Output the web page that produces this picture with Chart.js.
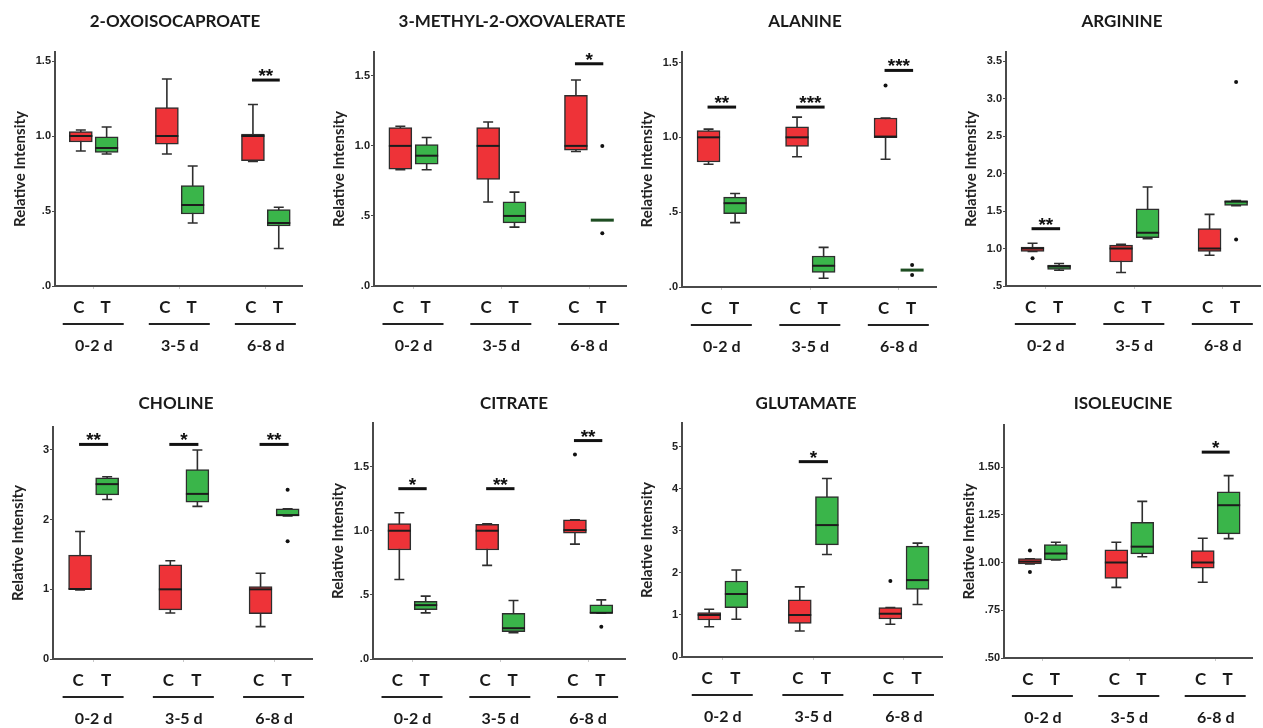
<!DOCTYPE html>
<html>
<head>
<meta charset="utf-8">
<script src="https://cdn.jsdelivr.net/npm/chart.js@4.4.0/dist/chart.umd.min.js"></script>
<style>
  body { margin: 0; background: #fff; width: 1263px; height: 728px; overflow: hidden; position: relative; }
  canvas { position: absolute; }
</style>
</head>
<body>
<script>
// time windows on the x axis
const groups = ['0-2 d', '3-5 d', '6-8 d'];

// every box is [min, q1, median, q3, max] for C (control) and T (treated)
const oxoC = [[0.90, 0.96, 1.00, 1.03, 1.04], [0.88, 0.945, 1.00, 1.19, 1.38], [0.83, 0.835, 1.00, 1.013, 1.21]];
const oxoT = [[0.88, 0.89, 0.92, 0.995, 1.06], [0.42, 0.48, 0.54, 0.67, 0.80], [0.25, 0.40, 0.42, 0.51, 0.525]];
const oxoOut = [];
const oxoSig = [null, null, ['**', 1.373]];

const metC = [[0.83, 0.833, 1.00, 1.13, 1.14], [0.60, 0.76, 1.00, 1.13, 1.17], [0.96, 0.97, 1.00, 1.36, 1.47]];
const metT = [[0.83, 0.87, 0.93, 1.01, 1.06], [0.42, 0.45, 0.50, 0.60, 0.67], [0.47, 0.47, 0.47, 0.47, 0.47]];
const metOut = [[2, 'T', 1.00], [2, 'T', 0.376]];
const metSig = [null, null, ['*', 1.586]];

const alaC = [[0.82, 0.835, 1.00, 1.045, 1.055], [0.87, 0.94, 1.00, 1.07, 1.135], [0.853, 0.998, 1.005, 1.129, 1.129]];
const alaT = [[0.43, 0.49, 0.56, 0.60, 0.625], [0.058, 0.098, 0.142, 0.207, 0.265], [0.113, 0.113, 0.113, 0.113, 0.113]];
const alaOut = [[2, 'C', 1.347], [2, 'T', 0.147], [2, 'T', 0.08]];
const alaSig = [['**', 1.202], ['***', 1.202], ['***', 1.447]];

const argC = [[0.96, 0.96, 1.00, 1.02, 1.07], [0.68, 0.82, 1.00, 1.045, 1.055], [0.91, 0.96, 1.00, 1.265, 1.455]];
const argT = [[0.71, 0.72, 0.76, 0.78, 0.80], [1.13, 1.145, 1.21, 1.53, 1.82], [1.57, 1.575, 1.625, 1.635, 1.64]];
const argOut = [[0, 'C', 0.87], [2, 'T', 3.22], [2, 'T', 1.12]];
const argSig = [['**', 1.264], null, null];

const choC = [[0.99, 1.00, 1.005, 1.49, 1.83], [0.66, 0.705, 1.00, 1.35, 1.41], [0.465, 0.65, 1.00, 1.04, 1.23]];
const choT = [[2.29, 2.355, 2.51, 2.60, 2.615], [2.19, 2.25, 2.37, 2.72, 3.00], [2.055, 2.058, 2.065, 2.155, 2.155]];
const choOut = [[2, 'T', 2.43], [2, 'T', 1.69]];
const choSig = [['**', 3.08], ['*', 3.08], ['**', 3.08]];

const citC = [[0.62, 0.85, 1.00, 1.055, 1.14], [0.73, 0.85, 1.00, 1.05, 1.055], [0.896, 0.982, 1.005, 1.086, 1.086]];
const citT = [[0.36, 0.385, 0.42, 0.45, 0.49], [0.205, 0.213, 0.24, 0.357, 0.456], [0.357, 0.357, 0.36, 0.422, 0.461]];
const citOut = [[2, 'C', 1.594], [2, 'T', 0.252]];
const citSig = [['*', 1.328], ['**', 1.328], ['**', 1.703]];

const gluC = [[0.72, 0.88, 1.00, 1.055, 1.135], [0.62, 0.80, 1.00, 1.36, 1.67], [0.78, 0.905, 1.03, 1.175, 1.175]];
const gluT = [[0.90, 1.175, 1.50, 1.81, 2.07], [2.44, 2.67, 3.14, 3.82, 4.25], [1.25, 1.61, 1.83, 2.64, 2.71]];
const gluOut = [[2, 'C', 1.81]];
const gluSig = [null, ['*', 4.65], null];

const ileC = [[0.993, 0.993, 1.005, 1.02, 1.02], [0.87, 0.917, 1.00, 1.066, 1.106], [0.897, 0.97, 1.00, 1.0625, 1.127]];
const ileT = [[1.014, 1.014, 1.047, 1.094, 1.106], [1.03, 1.045, 1.083, 1.21, 1.32], [1.125, 1.15, 1.30, 1.37, 1.455]];
const ileOut = [[0, 'C', 1.0625], [0, 'C', 0.95]];
const ileSig = [null, null, ['*', 1.578]];

// y axes of the eight panels
const yMins = [0, 0, 0, 0.5, 0, 0, 0, 0.5];
const yMaxs = [1.56, 1.67, 1.57, 3.62, 3.33, 1.84, 5.57, 1.72];
const ySteps = [0.5, 0.5, 0.5, 0.5, 1, 0.5, 1, 0.25];
const yDecimals = [1, 1, 1, 1, 0, 1, 0, 2];

const panels = [
  { title: '2-OXOISOCAPROATE', c: oxoC, t: oxoT, out: oxoOut, sig: oxoSig },
  { title: '3-METHYL-2-OXOVALERATE', c: metC, t: metT, out: metOut, sig: metSig },
  { title: 'ALANINE', c: alaC, t: alaT, out: alaOut, sig: alaSig },
  { title: 'ARGININE', c: argC, t: argT, out: argOut, sig: argSig },
  { title: 'CHOLINE', c: choC, t: choT, out: choOut, sig: choSig },
  { title: 'CITRATE', c: citC, t: citT, out: citOut, sig: citSig },
  { title: 'GLUTAMATE', c: gluC, t: gluT, out: gluOut, sig: gluSig },
  { title: 'ISOLEUCINE', c: ileC, t: ileT, out: ileOut, sig: ileSig }
];

// where each panel sits on the page (px)
const frames = [
  { left: 0,   top: 0,   axis: 55,   right: 302,  plotTop: 52,  plotBottom: 286, titleX: 175,  titleY: 22 },
  { left: 318, top: 0,   axis: 374,  right: 626,  plotTop: 52,  plotBottom: 286, titleX: 512,  titleY: 22 },
  { left: 628, top: 0,   axis: 682,  right: 936,  plotTop: 52,  plotBottom: 287, titleX: 805,  titleY: 22 },
  { left: 948, top: 0,   axis: 1006, right: 1260, plotTop: 52,  plotBottom: 286, titleX: 1122, titleY: 22 },
  { left: 0,   top: 364, axis: 53,   right: 312,  plotTop: 427, plotBottom: 659, titleX: 176,  titleY: 404 },
  { left: 318, top: 364, axis: 373,  right: 625,  plotTop: 423, plotBottom: 659, titleX: 514,  titleY: 404 },
  { left: 628, top: 364, axis: 682,  right: 942,  plotTop: 423, plotBottom: 657, titleX: 806,  titleY: 404 },
  { left: 948, top: 364, axis: 1004, right: 1252, plotTop: 425, plotBottom: 658, titleX: 1123, titleY: 404 }
];

const OFF = 0.15;          // C / T shift from the group centre, in x units
const RED = '#ee3338';
const GREEN = '#3ab54a';
const INK = '#2e2e2e';
const XH = 5;

function fmt(v, d) {
  const s = v.toFixed(d);
  return d > 0 ? s.replace(/^0\./, '.') : s;
}

function extras(p, f) {
  return {
    id: 'boxExtras',
    beforeDatasetsDraw(chart) {
      // whiskers + caps, boxes get drawn over them
      const { ctx, scales: { x, y } } = chart;
      ctx.save();
      ctx.strokeStyle = INK;
      ctx.lineWidth = 1.6;
      [[p.c, -OFF], [p.t, OFF]].forEach(([boxes, dx]) => {
        boxes.forEach((b, g) => {
          const cx = x.getPixelForValue(g + dx);
          const lo = y.getPixelForValue(b[0]);
          const hi = y.getPixelForValue(b[4]);
          ctx.beginPath();
          ctx.moveTo(cx, lo); ctx.lineTo(cx, hi);
          ctx.moveTo(cx - 5, lo); ctx.lineTo(cx + 5, lo);
          ctx.moveTo(cx - 5, hi); ctx.lineTo(cx + 5, hi);
          ctx.stroke();
        });
      });
      ctx.restore();
    },
    afterDatasetsDraw(chart) {
      const { ctx, scales: { x, y } } = chart;
      ctx.save();
      // medians
      [0, 1].forEach(di => {
        const boxes = di ? p.t : p.c;
        chart.getDatasetMeta(di).data.forEach((bar, g) => {
          const { x: bx, width } = bar.getProps(['x', 'width'], true);
          const b = boxes[g];
          const my = y.getPixelForValue(b[2]);
          ctx.beginPath();
          ctx.moveTo(bx - width / 2, my);
          ctx.lineTo(bx + width / 2, my);
          // a collapsed box is shown as one thicker dark line
          ctx.lineWidth = b[1] === b[3] ? 3 : 2;
          ctx.strokeStyle = b[1] === b[3] ? (di ? '#1e4d22' : '#5a1416') : '#1c1c1c';
          ctx.stroke();
        });
      });
      // significance bars
      p.sig.forEach((s, g) => {
        if (!s) return;
        const x0 = x.getPixelForValue(g - OFF) - 1;
        const x1 = x.getPixelForValue(g + OFF) + 1;
        const sy = y.getPixelForValue(s[1]);
        ctx.beginPath();
        ctx.moveTo(x0, sy); ctx.lineTo(x1, sy);
        ctx.lineWidth = 3;
        ctx.strokeStyle = '#111';
        ctx.stroke();
        ctx.fillStyle = '#111';
        ctx.font = 'bold 19px "Liberation Sans"';
        ctx.textAlign = 'center';
        ctx.textBaseline = 'alphabetic';
        ctx.fillText(s[0], (x0 + x1) / 2, sy + 2);
      });
      ctx.restore();
    },
    afterDraw(chart) {
      const { ctx, chartArea, scales: { x } } = chart;
      ctx.save();
      ctx.fillStyle = '#1a1a1a';
      ctx.textAlign = 'center';
      ctx.textBaseline = 'middle';
      ctx.font = 'bold 17px Lato';
      ctx.fillText(p.title, f.titleX - f.left, f.titleY - f.top);
      const b = chartArea.bottom;
      groups.forEach((name, g) => {
        const gx = x.getPixelForValue(g);
        ctx.font = 'bold 17px Lato';
        ctx.fillText('C', x.getPixelForValue(g - OFF) - 2, b + 22);
        ctx.fillText('T', x.getPixelForValue(g + OFF) - 1, b + 22);
        ctx.beginPath();
        ctx.moveTo(gx - 31, b + 38);
        ctx.lineTo(gx + 30, b + 38);
        ctx.lineWidth = 2;
        ctx.strokeStyle = '#222';
        ctx.stroke();
        ctx.font = 'bold 16px Lato';
        ctx.fillText(name, gx, b + 60);
      });
      ctx.restore();
    }
  };
}

panels.forEach((p, i) => {
  const f = frames[i];
  const W = f.right - f.left + 4;
  const H = 364;
  const canvas = document.createElement('canvas');
  canvas.width = W;
  canvas.height = H;
  canvas.style.left = f.left + 'px';
  canvas.style.top = f.top + 'px';
  document.body.appendChild(canvas);
  const yw = f.axis - f.left;

  const outliers = p.out.map(o => ({ x: o[0] + (o[1] === 'C' ? -OFF : OFF), y: o[2] }));

  new Chart(canvas, {
    type: 'bar',
    data: {
      datasets: [
        {
          label: 'C',
          data: p.c.map((b, g) => ({ x: g - OFF, y: [b[1], b[3]] })),
          backgroundColor: RED,
          borderColor: INK,
          borderWidth: 1.5,
          borderSkipped: false,
          barThickness: 23,
          grouped: false
        },
        {
          label: 'T',
          data: p.t.map((b, g) => ({ x: g + OFF, y: [b[1], b[3]] })),
          backgroundColor: GREEN,
          borderColor: INK,
          borderWidth: 1.5,
          borderSkipped: false,
          barThickness: 23,
          grouped: false
        },
        {
          type: 'scatter',
          label: 'outliers',
          data: outliers,
          pointRadius: 2,
          backgroundColor: '#111',
          borderWidth: 0
        }
      ]
    },
    options: {
      responsive: false,
      animation: false,
      devicePixelRatio: 1,
      layout: {
        padding: { left: 0, right: 4, top: f.plotTop - f.top, bottom: H - (f.plotBottom - f.top) - XH }
      },
      plugins: { legend: { display: false }, tooltip: { enabled: false } },
      scales: {
        x: {
          type: 'linear',
          min: -0.45,
          max: 2.42,
          offset: false,
          afterBuildTicks: s => { s.ticks = groups.map((_, g) => ({ value: g })); },
          afterFit: s => { s.height = XH; },
          ticks: { display: false },
          grid: { drawOnChartArea: false, offset: false, tickLength: 3, color: '#c8c8c8' },
          border: { color: '#4a4a4a', width: 2 }
        },
        y: {
          min: yMins[i],
          max: yMaxs[i],
          beginAtZero: false,
          afterFit: s => { s.width = yw; },
          ticks: {
            stepSize: ySteps[i],
            includeBounds: false,
            callback: v => fmt(v, yDecimals[i]),
            font: { family: 'Liberation Sans', weight: 'bold', size: 11 },
            color: '#222',
            padding: 1
          },
          grid: { drawOnChartArea: false, tickLength: 3, color: '#4a4a4a' },
          border: { color: '#4a4a4a', width: 2 },
          title: {
            display: true,
            text: 'Relative Intensity',
            font: { family: 'Lato', weight: 'bold', size: 15 },
            color: '#222',
            padding: { top: yw - 44, bottom: 0 }
          }
        }
      }
    },
    plugins: [extras(p, f)]
  });
});
</script>
</body>
</html>
